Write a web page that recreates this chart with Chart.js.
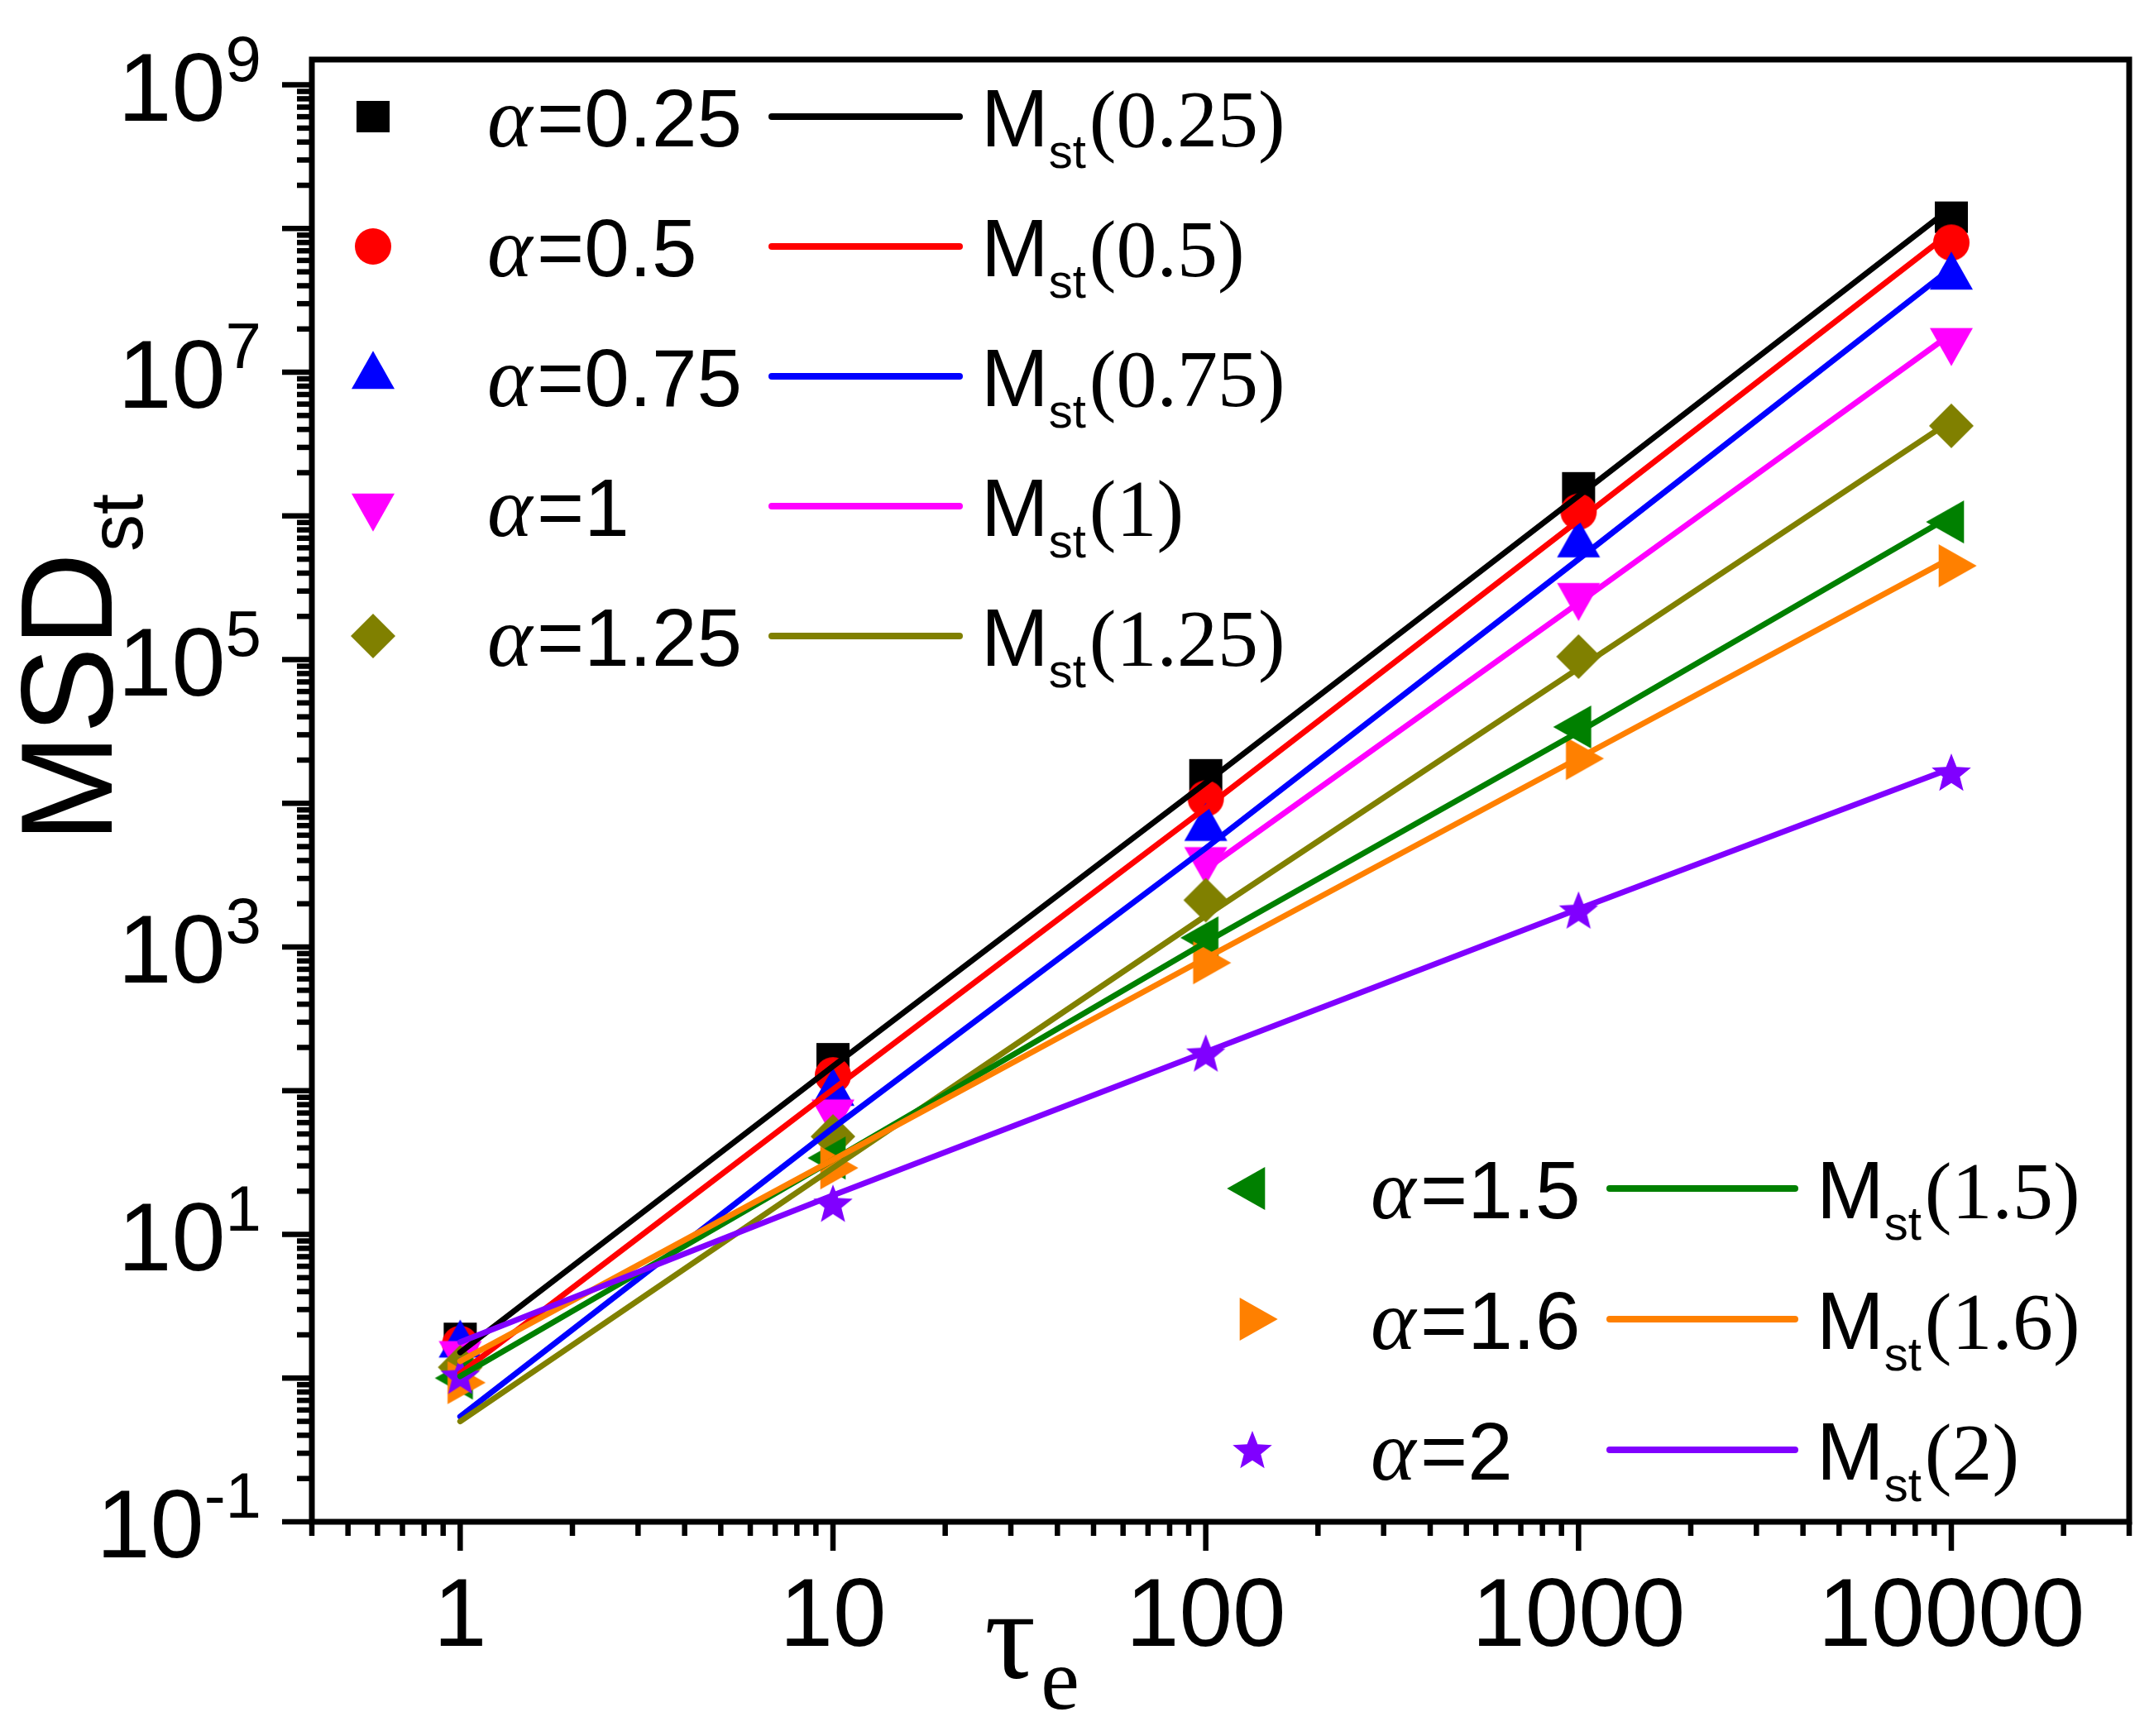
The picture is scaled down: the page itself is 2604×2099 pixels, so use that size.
<!DOCTYPE html>
<html>
<head>
<meta charset="utf-8">
<script src="https://cdn.jsdelivr.net/npm/chart.js@4.4.1/dist/chart.umd.min.js"></script>
<style>
  html, body { margin: 0; padding: 0; background: #fff; }
  #wrap { width: 2604px; height: 2099px; }
</style>
</head>
<body>
<div id="wrap"><canvas id="chart" width="2604" height="2099"></canvas></div>
<script>
// tau_e values (x)
const tau = [1, 10, 100, 1000, 10000];
const alphas = ["0.25", "0.5", "0.75", "1", "1.25", "1.5", "1.6", "2"];

// simulated MSD_st (markers)
const sim025 = [1.89, 167, 1.58e4, 1.57e6, 1.2e8];
const sim05 = [1.73, 128, 1.08e4, 1.07e6, 7.98e7];
const sim075 = [1.7, 96, 6.7e3, 6.3e5, 4.6e7];
const sim1 = [1.48, 71, 4.05e3, 2.79e5, 1.66e7];
const sim125 = [1.19, 48, 2.12e3, 1.05e5, 4.24e6];
const sim15 = [1.0, 34, 1.16e3, 3.4e4, 9.08e5];
const sim16 = [0.93, 29, 776, 2.05e4, 4.5e5];
const sim2 = [1.04, 16.4, 182, 1.8e3, 1.64e4];

// M_st(alpha) curves (lines)
const mst025 = [1.51, 148, 1.39e4, 1.38e6, 1.4e8];
const mst05 = [1.08, 102, 9.3e3, 9.3e5, 9.5e7];
const mst075 = [0.54, 55, 4.88e3, 5.0e5, 5.3e7];
const mst1 = [null, null, 3.48e3, 2.48e5, 1.85e7];
const mst125 = [0.5, 29, 1.65e3, 8.7e4, 4.6e6];
const mst15 = [1.03, 33, 1.08e3, 3.14e4, 1.0e6];
const mst16 = [1.31, 33, 837, 2.06e4, 5.1e5];
const mst2 = [1.78, 18.7, 186, 1840, 1.75e4];

const xTickLabels = ["1", "10", "100", "1000", "10000"];
const yLabelPowers = [-1, 1, 3, 5, 7, 9];

const simSeries = [sim025, sim05, sim075, sim1, sim125, sim15, sim16, sim2];
const mstSeries = [mst025, mst05, mst075, mst1, mst125, mst15, mst16, mst2];
const colors = ["#000000", "#ff0000", "#0000ff", "#ff00ff", "#808000", "#008000", "#ff8000", "#8000ff"];
const shapes = ["square", "circle", "triUp", "triDown", "diamond", "triLeft", "triRight", "star"];

function makeMarker(shape, color) {
  const c = document.createElement("canvas");
  c.width = 64;
  c.height = 64;
  const g = c.getContext("2d");
  const m = 32;
  g.fillStyle = color;
  g.beginPath();
  const poly = (pts) => {
    g.moveTo(pts[0][0], pts[0][1]);
    for (let i = 1; i < pts.length; i++) g.lineTo(pts[i][0], pts[i][1]);
    g.closePath();
  };
  switch (shape) {
    case "square": g.rect(m - 20, m - 19, 40, 38); break;
    case "circle": g.arc(m, m, 22, 0, Math.PI * 2); break;
    case "triUp": poly([[m, m - 30.7], [m + 26, m + 15.3], [m - 26, m + 15.3]]); break;
    case "triDown": poly([[m - 26, m - 15.3], [m + 26, m - 15.3], [m, m + 30.7]]); break;
    case "triLeft": poly([[m - 30.7, m], [m + 15.3, m - 26], [m + 15.3, m + 26]]); break;
    case "triRight": poly([[m + 30.7, m], [m - 15.3, m - 26], [m - 15.3, m + 26]]); break;
    case "diamond": poly([[m, m - 27], [m + 27, m], [m, m + 27], [m - 27, m]]); break;
    case "star": {
      const pts = [];
      for (let i = 0; i < 10; i++) {
        const r = i % 2 === 0 ? 25 : 10.8;
        const a = -Math.PI / 2 + i * Math.PI / 5;
        pts.push([m + r * Math.cos(a), m + 2 + r * Math.sin(a)]);
      }
      poly(pts);
      break;
    }
  }
  g.fill();
  return c;
}

const datasets = [];
simSeries.forEach((vals, i) => {
  datasets.push({
    label: "\u03b1=" + alphas[i],
    data: tau.map((t, j) => ({ x: t, y: vals[j] })),
    pointStyle: makeMarker(shapes[i], colors[i]),
    pointRadius: 25,
    backgroundColor: colors[i],
    borderColor: colors[i],
    showLine: false,
    order: 100 - i,
  });
});
mstSeries.forEach((vals, i) => {
  datasets.push({
    label: "Mst(" + alphas[i] + ")",
    data: tau.map((t, j) => ({ x: t, y: vals[j] })).filter((p) => p.y !== null),
    borderColor: colors[i],
    borderWidth: 7,
    borderCapStyle: "round",
    borderJoinStyle: "round",
    pointRadius: 0,
    showLine: true,
    tension: 0,
    order: 50 - i,
  });
});

const SANS = '"Liberation Sans", Arial, sans-serif';
const SERIF = '"Liberation Serif", "Times New Roman", serif';

// frame, ticks, labels, titles
const axesPlugin = {
  id: "axesPlugin",
  afterDraw(chart) {
    const { ctx, chartArea: a, scales } = chart;
    const x = scales.x;
    const y = scales.y;
    ctx.save();
    ctx.strokeStyle = "#000";
    ctx.fillStyle = "#000";
    ctx.lineWidth = 6.5;
    ctx.lineCap = "butt";

    // y ticks
    for (let p = -1; p <= 9; p++) {
      for (let k = 1; k <= 9; k++) {
        const v = k * Math.pow(10, p);
        if (v > y.max * 1.0001) break;
        const py = y.getPixelForValue(v);
        const len = k === 1 ? 36 : 18;
        ctx.beginPath();
        ctx.moveTo(a.left, py);
        ctx.lineTo(a.left - len, py);
        ctx.stroke();
      }
    }
    // x ticks
    for (let p = -1; p <= 4; p++) {
      for (let k = 1; k <= 9; k++) {
        const v = k * Math.pow(10, p);
        if (v < x.min * 0.999 || v > x.max * 1.001) continue;
        const px = x.getPixelForValue(v);
        const len = k === 1 ? 35 : 17;
        ctx.beginPath();
        ctx.moveTo(px, a.bottom);
        ctx.lineTo(px, a.bottom + len);
        ctx.stroke();
      }
    }
    // frame
    ctx.lineWidth = 7;
    ctx.lineJoin = "miter";
    ctx.strokeRect(a.left, a.top, a.right - a.left, a.bottom - a.top);

    // x tick labels
    ctx.textAlign = "center";
    ctx.textBaseline = "alphabetic";
    ctx.font = "116px " + SANS;
    tau.forEach((t, i) => {
      ctx.fillText(xTickLabels[i], x.getPixelForValue(t), a.bottom + 150);
    });

    // y tick labels 10^n
    ctx.textAlign = "left";
    yLabelPowers.forEach((p) => {
      const py = y.getPixelForValue(Math.pow(10, p));
      const sup = p < 0 ? "-" + Math.abs(p) : String(p);
      ctx.font = "117px " + SANS;
      const wMain = ctx.measureText("10").width;
      ctx.font = "78px " + SANS;
      const wSup = ctx.measureText(sup).width;
      const x0 = 316 - wSup - wMain;
      ctx.font = "117px " + SANS;
      ctx.fillText("10", x0, py + 43);
      ctx.font = "78px " + SANS;
      ctx.fillText(sup, x0 + wMain, py - 5);
    });

    // x title tau_e
    ctx.font = "155px " + SERIF;
    ctx.fillText("\u03c4", 1190, 2028);
    const wTau = ctx.measureText("\u03c4").width;
    ctx.font = "105px " + SERIF;
    ctx.fillText("e", 1190 + wTau + 6, 2066);

    // y title MSD_st
    ctx.save();
    ctx.translate(135, 1019);
    ctx.rotate(-Math.PI / 2);
    ctx.font = "158px " + SANS;
    ctx.fillText("MSD", 0, 0);
    const wMsd = ctx.measureText("MSD").width;
    ctx.font = "90px " + SANS;
    ctx.fillText("st", wMsd + 1, 37);
    ctx.restore();

    ctx.restore();
  },
};

// two-block legend drawn from the datasets
const legendPlugin = {
  id: "legendPlugin",
  afterDraw(chart) {
    const { ctx } = chart;
    const ds = chart.data.datasets;
    const blocks = [
      { items: [0, 1, 2, 3, 4], top: 141, step: 157, mk: 451, tx: 589, l0: 933, l1: 1160, mx: 1186 },
      { items: [5, 6, 7], top: 1437, step: 158, mk: 1514, tx: 1657, l0: 1946, l1: 2170, mx: 2196 },
    ];
    ctx.save();
    ctx.textAlign = "left";
    ctx.textBaseline = "alphabetic";
    blocks.forEach((b) => {
      b.items.forEach((idx, r) => {
        const cy = b.top + r * b.step;
        const base = cy + 36;
        const img = ds[idx].pointStyle;
        ctx.drawImage(img, b.mk - img.width / 2, cy - img.height / 2);

        ctx.fillStyle = "#000";
        ctx.font = "italic 104px " + SERIF;
        ctx.fillText("\u03b1", b.tx, base);
        ctx.font = "98px " + SANS;
        ctx.fillText("=" + alphas[idx], b.tx + 60, base);

        const line = ds[idx + 8];
        ctx.strokeStyle = line.borderColor;
        ctx.lineWidth = 8;
        ctx.lineCap = "round";
        ctx.beginPath();
        ctx.moveTo(b.l0, cy);
        ctx.lineTo(b.l1, cy);
        ctx.stroke();

        ctx.fillStyle = "#000";
        ctx.font = "98px " + SANS;
        ctx.fillText("M", b.mx, base);
        const wm = ctx.measureText("M").width;
        ctx.font = "58px " + SANS;
        ctx.fillText("st", b.mx + wm, base + 26);
        const ws = ctx.measureText("st").width;
        ctx.font = "98px " + SERIF;
        ctx.fillText("(" + alphas[idx] + ")", b.mx + wm + ws + 4, base);
      });
    });
    ctx.restore();
  },
};

new Chart(document.getElementById("chart"), {
  type: "scatter",
  data: { datasets },
  options: {
    responsive: false,
    animation: false,
    devicePixelRatio: 1,
    layout: { padding: { left: 377, top: 72, right: 30, bottom: 259 } },
    scales: {
      x: { type: "logarithmic", min: 0.4, max: 30000, display: false },
      y: { type: "logarithmic", min: 0.1, max: 1.5e9, display: false },
    },
    plugins: {
      legend: { display: false },
      tooltip: { enabled: false },
    },
  },
  plugins: [axesPlugin, legendPlugin],
});
</script>
</body>
</html>
